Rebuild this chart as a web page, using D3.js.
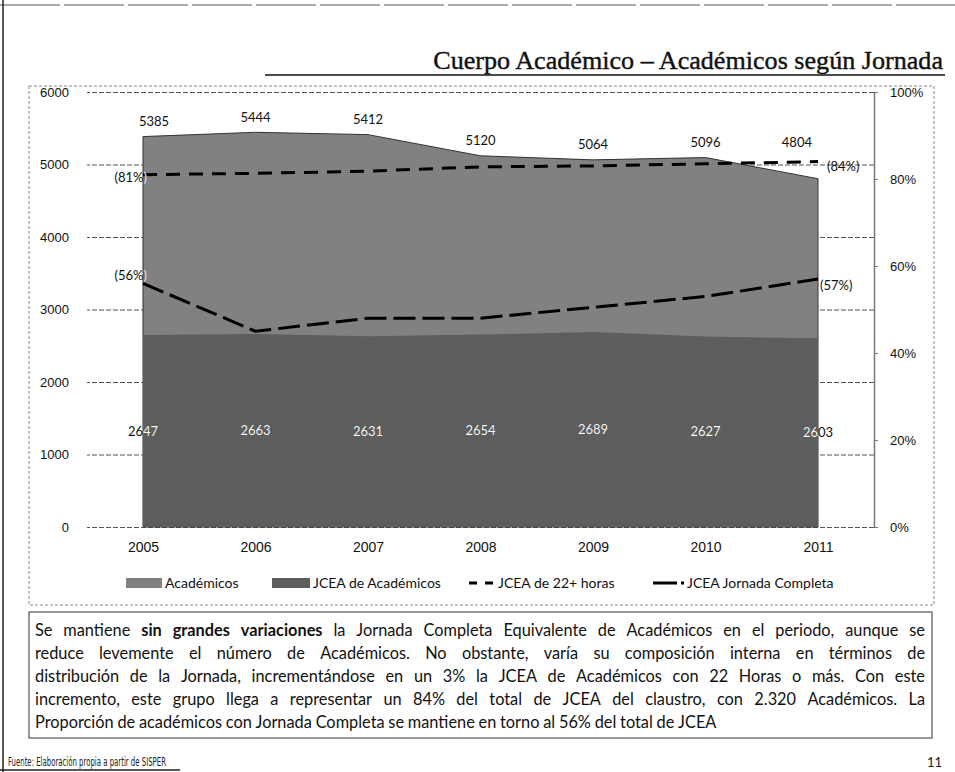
<!DOCTYPE html>
<html>
<head>
<meta charset="utf-8">
<script src="https://cdn.jsdelivr.net/npm/d3@7"></script>
<style>
	body { margin: 0; background: #fff; }
	svg { display: block; font-family: Lato, "Open Sans", sans-serif; }
	.grid .tick line { stroke: #555; stroke-dasharray: 5,2; }
	.axis text { fill: #111; }
</style>
</head>
<body>
<script>
// --- data ---
const years = ['2005', '2006', '2007', '2008', '2009', '2010', '2011'];
const academicos = [5385, 5444, 5412, 5120, 5064, 5096, 4804];
const jceaAcademicos = [2647, 2663, 2631, 2654, 2689, 2627, 2603];
const jcea22 = [81, 81.3, 81.8, 82.8, 83, 83.5, 84];            // % of JCEA
const jceaCompleta = [56, 45, 48, 48, 50.5, 53, 57];            // % of JCEA
const leftTicks = [0, 1000, 2000, 3000, 4000, 5000, 6000];
const rightTicks = [0, 20, 40, 60, 80, 100];
const legendLabels = ['Académicos', 'JCEA de Académicos', 'JCEA de 22+ horas', 'JCEA Jornada Completa'];
const titleText = 'Cuerpo Académico – Académicos según Jornada';
const sourceText = 'Fuente: Elaboración propia a partir de SISPER';
const pageNumber = '11';
// paragraph, one entry per printed line; *...* marks bold words
const paragraph = [
	'Se mantiene *sin grandes variaciones* la Jornada Completa Equivalente de Académicos en el periodo, aunque se',
	'reduce levemente el número de Académicos. No obstante, varía su composición interna en términos de',
	'distribución de la Jornada, incrementándose en un 3% la JCEA de Académicos con 22 Horas o más. Con este',
	'incremento, este grupo llega a representar un 84% del total de JCEA del claustro, con 2.320 Académicos. La',
	'Proporción de académicos con Jornada Completa se mantiene en torno al 56% del total de JCEA'
];

const config = {
	width: 955,
	height: 772,
	plot: { left: 143, right: 818, top: 92, bottom: 527 },
	gridLeft: 87,
	axisRight: 874,
	colorAcad: '#818181',
	colorJcea: '#5d5d5d',
	titleWidth: 510,
	text: { left: 35, right: 925, top: 630, lineHeight: 23, lastWidth: 687 }
};

const svg = d3.select('body').append('svg')
	.attr('width', config.width)
	.attr('height', config.height);

// --- page decorations (scanned slide frame) ---
svg.append('line').attr('x1', 0).attr('x2', config.width).attr('y1', 5).attr('y2', 5)
	.attr('stroke', '#555').attr('stroke-dasharray', '60,4');
svg.append('line').attr('x1', 3).attr('x2', 3).attr('y1', 0).attr('y2', config.height)
	.attr('stroke', '#222').attr('stroke-width', 1.5);
svg.append('rect').attr('x', 29).attr('y', 86).attr('width', 905).attr('height', 519)
	.attr('fill', 'none').attr('stroke', '#888').attr('stroke-dasharray', '3,2');
svg.append('line').attr('x1', 0).attr('x2', 180).attr('y1', 770).attr('y2', 770)
	.attr('stroke', '#222').attr('stroke-width', 1.5);

// title, font size fitted to the scanned width
const title = svg.append('text')
	.attr('x', 943).attr('y', 69)
	.attr('text-anchor', 'end')
	.attr('font-family', '"Liberation Serif", "DejaVu Serif", serif')
	.attr('font-size', 25)
	.attr('fill', '#111')
	.attr('stroke', '#111')
	.attr('stroke-width', 0.4)
	.text(titleText);
title.attr('font-size', 25 * config.titleWidth / title.node().getComputedTextLength());
svg.append('line').attr('x1', 265).attr('x2', 945).attr('y1', 75).attr('y2', 75)
	.attr('stroke', '#111').attr('stroke-width', 1.5);

// --- scales ---
const p = config.plot;
const x = d3.scalePoint().domain(years).range([p.left, p.right]);
const y = d3.scaleLinear().domain([0, 6000]).range([p.bottom, p.top]);
const yPct = d3.scaleLinear().domain([0, 100]).range([p.bottom, p.top]);

// left axis doubles as the gridlines
svg.append('g')
	.attr('class', 'axis grid')
	.attr('transform', `translate(${config.axisRight},0)`)
	.call(d3.axisLeft(y).tickValues(leftTicks).tickFormat(d3.format('d'))
		.tickSize(config.axisRight - config.gridLeft).tickPadding(18))
	.call(g => g.select('.domain').remove())
	.call(g => g.selectAll('text').attr('font-size', 13));

// areas
const acadArea = d3.area()
	.x((d, i) => x(years[i]))
	.y0(y(0))
	.y1(d => y(d));

svg.append('path')
	.datum(academicos)
	.attr('d', acadArea)
	.attr('fill', config.colorAcad)
	.attr('stroke', '#333');

svg.append('path')
	.datum(jceaAcademicos)
	.attr('d', acadArea)
	.attr('fill', config.colorJcea);

svg.append('defs').append('clipPath').attr('id', 'area-clip')
	.append('path').datum(academicos).attr('d', acadArea);

// right axis (percent)
svg.append('g')
	.attr('class', 'axis')
	.attr('transform', `translate(${config.axisRight},0)`)
	.call(d3.axisRight(yPct).tickValues(rightTicks).tickSize(4).tickSizeOuter(0).tickPadding(12).tickFormat(d => d + '%'))
	.call(g => g.select('.domain').attr('stroke', '#777').attr('stroke-width', 1.5))
	.call(g => g.selectAll('.tick line').attr('stroke', '#777'))
	.call(g => g.selectAll('text').attr('font-size', 13));

// x axis labels
svg.append('g')
	.attr('class', 'axis')
	.attr('transform', `translate(0,${p.bottom})`)
	.call(d3.axisBottom(x).tickSize(0).tickPadding(15))
	.call(g => g.select('.domain').remove())
	.call(g => g.selectAll('text').attr('font-size', 14));

// lines on the percent scale
const pctLine = d3.line().x((d, i) => x(years[i])).y(d => yPct(d));

svg.append('path')
	.datum(jcea22)
	.attr('d', pctLine)
	.attr('fill', 'none')
	.attr('stroke', '#000')
	.attr('stroke-width', 3)
	.attr('stroke-dasharray', '14,9');

svg.append('path')
	.datum(jceaCompleta)
	.attr('d', pctLine)
	.attr('fill', 'none')
	.attr('stroke', '#000')
	.attr('stroke-width', 3)
	.attr('stroke-dasharray', '22,7');

// --- data labels: drawn black, then a white copy clipped to the area ---
const first = years[0], last = years[years.length - 1];
const lastIdx = years.length - 1;
const labels = [];
academicos.forEach((v, i) => {
	const anchor = i === 0 ? 'start' : (i === lastIdx ? 'end' : 'middle');
	const dx = i === 0 ? -4 : (i === lastIdx ? -6 : 0);
	// the last label sits higher to clear the dashed line
	const dy = i === lastIdx ? -36 : -15;
	labels.push({ text: String(v), x: x(years[i]) + dx, y: y(v) + dy, anchor });
});
jceaAcademicos.forEach((v, i) => {
	labels.push({ text: String(v), x: x(years[i]), y: y(v / 2), anchor: 'middle' });
});
labels.push({ text: `(${jcea22[0]}%)`, x: x(first) + 4, y: yPct(jcea22[0]) + 3, anchor: 'end' });
labels.push({ text: `(${jceaCompleta[0]}%)`, x: x(first) + 4, y: yPct(jceaCompleta[0]) - 8, anchor: 'end' });
labels.push({ text: `(${jcea22[lastIdx]}%)`, x: x(last) + 9, y: yPct(jcea22[lastIdx]) + 5, anchor: 'start' });
labels.push({ text: `(${jceaCompleta[lastIdx]}%)`, x: x(last) + 2, y: yPct(jceaCompleta[lastIdx]) + 6, anchor: 'start' });

const drawLabels = (g, color) => g.selectAll('text')
	.data(labels)
	.join('text')
	.attr('x', d => d.x)
	.attr('y', d => d.y)
	.attr('dy', '0.35em')
	.attr('text-anchor', d => d.anchor)
	.attr('font-size', 13)
	.attr('fill', color)
	.text(d => d.text);

drawLabels(svg.append('g'), '#111');
drawLabels(svg.append('g').attr('clip-path', 'url(#area-clip)'), '#fff');

// --- legend ---
const legendY = 583;
const legend = svg.append('g').attr('font-size', 14).attr('fill', '#111');
legend.append('rect').attr('x', 126).attr('y', legendY - 5).attr('width', 36).attr('height', 10).attr('fill', config.colorAcad);
legend.append('text').attr('x', 165).attr('y', legendY).attr('dy', '0.35em').text(legendLabels[0]);
legend.append('rect').attr('x', 272).attr('y', legendY - 5).attr('width', 38).attr('height', 10).attr('fill', config.colorJcea);
legend.append('text').attr('x', 313).attr('y', legendY).attr('dy', '0.35em').text(legendLabels[1]);
legend.append('line').attr('x1', 469).attr('x2', 493).attr('y1', legendY).attr('y2', legendY)
	.attr('stroke', '#000').attr('stroke-width', 3).attr('stroke-dasharray', '8,8');
legend.append('text').attr('x', 498).attr('y', legendY).attr('dy', '0.35em').text(legendLabels[2]);
legend.append('line').attr('x1', 653).attr('x2', 684).attr('y1', legendY).attr('y2', legendY)
	.attr('stroke', '#000').attr('stroke-width', 3).attr('stroke-dasharray', '24,4,3,10');
legend.append('text').attr('x', 687).attr('y', legendY).attr('dy', '0.35em').text(legendLabels[3]);

// --- commentary box ---
const t = config.text;
svg.append('rect').attr('x', 29).attr('y', 612).attr('width', 903).attr('height', 126)
	.attr('fill', 'none').attr('stroke', '#333');

const para = svg.append('g').attr('fill', '#111');

// size the font so that the last (unjustified) line matches the scan
const probe = para.append('text').attr('font-size', 15).text(paragraph[4]);
const fontSize = 15 * t.lastWidth / probe.node().getComputedTextLength();
probe.remove();

paragraph.forEach((line, li) => {
	const words = [];
	let bold = false;
	line.split(' ').forEach(w => {
		let word = w;
		const startBold = word.startsWith('*');
		if (startBold) { bold = true; word = word.slice(1); }
		const endBold = word.endsWith('*');
		if (endBold) word = word.slice(0, -1);
		words.push({ word, bold });
		if (endBold) bold = false;
	});

	const text = para.append('text')
		.attr('y', t.top + li * t.lineHeight)
		.attr('dy', '0.35em')
		.attr('font-size', fontSize);

	const spans = words.map(w => {
		const s = text.append('tspan')
			.attr('font-weight', w.bold ? 'bold' : 'normal')
			.text(w.word);
		w.width = s.node().getComputedTextLength();
		s.text(w.word + ' ');
		return s;
	});

	const spaceW = fontSize * 0.23;
	const total = d3.sum(words, w => w.width);
	const justify = li < paragraph.length - 1;
	const gap = justify ? (t.right - t.left - total) / (words.length - 1) : spaceW;
	let cx = t.left;
	spans.forEach((s, i) => {
		s.attr('x', cx);
		cx += words[i].width + gap;
	});
});

// footer
svg.append('text')
	.attr('x', 8).attr('y', 762).attr('dy', '0.35em')
	.attr('font-family', '"Liberation Sans Narrow", "DejaVu Sans Condensed", sans-serif')
	.attr('font-size', 12)
	.attr('fill', '#222')
	.attr('textLength', 158)
	.attr('lengthAdjust', 'spacingAndGlyphs')
	.text(sourceText);
svg.append('text')
	.attr('x', 942).attr('y', 762).attr('dy', '0.35em')
	.attr('text-anchor', 'end')
	.attr('font-size', 13)
	.attr('fill', '#222')
	.text(pageNumber);
</script>
</body>
</html>
